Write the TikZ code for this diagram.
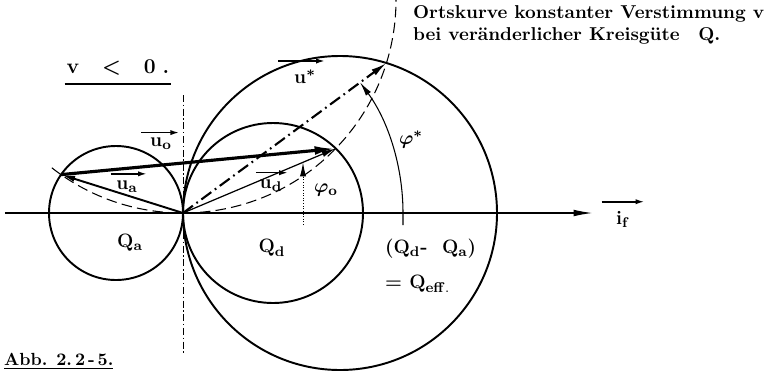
\documentclass[tikz,border=0pt]{standalone}
\usepackage{amsmath,amssymb,bm}
\usetikzlibrary{arrows.meta}

\begin{document}
\begin{tikzpicture}[
    x=0.02cm, y=0.02cm,
    >={Latex[length=8pt,width=3.5pt]},
    circ/.style={line width=1.1pt},
    axisline/.style={line width=0.9pt, -{Latex[length=11pt,width=3.8pt]}},
    locus/.style={line width=0.6pt, dash pattern=on 6pt off 3pt},
    symaxis/.style={line width=0.4pt, dash pattern=on 4pt off 1.5pt on 0.8pt off 1.5pt},
    vec/.style={line width=1.1pt, ->},
    lbl/.style={font=\fontsize{11}{13}\selectfont\bfseries, inner sep=1pt},
    lblarrow/.style={line width=0.9pt, -{Latex[length=5pt,width=3pt]}},
]
\useasboundingbox (-183,-163) rectangle (587,213);

% ---- Points ----
\coordinate (O)  at (0,0);
\coordinate (Ca) at (-67,0);
\coordinate (Cd) at (90,0);
\coordinate (Cs) at (157,0);
\coordinate (M)  at (0,213);
\coordinate (A)  at (-121.9,38.4);
\coordinate (D)  at (152.7,64.5);
\coordinate (S)  at (203.5,150.0);

% ---- Circles ----
\draw[circ] (Ca) circle[radius=67];
\draw[circ] (Cd) circle[radius=90];
\draw[circ] (Cs) circle[radius=157];

% ---- Axes ----
\coordinate (axL) at (-178,0);
\coordinate (axR) at (410,0);
\draw[axisline] (axL) -- (axR);
\coordinate (vT) at (0,118);
\coordinate (vB) at (0,-140);
\draw[symaxis] (vT) -- (vB);

% ---- Locus of constant detuning ----
\draw[locus] (M) ++(232:213) arc[start angle=232, end angle=360, radius=213];

% ---- Vectors ----
\draw[vec] (O) -- (A);
\draw[line width=1.8pt, -{Latex[length=12pt,width=5pt]}] (A) -- (D);
\draw[line width=0.7pt, ->] (O) -- (D);
\draw[line width=1.2pt, dash pattern=on 7pt off 2.5pt on 1pt off 2.5pt,
      -{Latex[length=9pt,width=4pt]}] (O) -- (S);

% ---- Angles ----
\coordinate (tS) at (220,-12);
\coordinate (aS) at (220,0);
\draw[line width=0.6pt, ->] (tS) -- (aS) arc[start angle=0, end angle=36.4, radius=220];
\coordinate (t0) at (120,-12);
\coordinate (a0) at (120,38);
\coordinate (b0) at (120,50.7);
\draw[densely dotted, line width=0.5pt] (t0) -- (a0);
\draw[line width=0.6pt, ->] (a0) -- (b0);

% ---- Labels ----
\node[lbl, font=\fontsize{12}{14}\selectfont\bfseries] (vlt) at (-65,146)
  {v\hspace{13pt}$\bm{<}$\hspace{13pt}0\hspace{4pt}.};
\draw[line width=0.9pt] ([yshift=-4pt]vlt.south west) -- ([yshift=-4pt]vlt.south east);

\node[lbl, font=\fontsize{10.6}{12.5}\selectfont\bfseries, anchor=north west, align=left]
  (title) at (228,210)
  {Ortskurve konstanter Verstimmung v\\bei veränderlicher Kreisgüte\quad Q.};

\node[lbl] (luo) at (-22,69)  {u$_{\mathbf{o}}$};
\node[lbl] (lua) at (-56,26)  {u$_{\mathbf{a}}$};
\node[lbl] (lud) at (88,27)   {u$_{\mathbf{d}}$};
\node[lbl] (lus) at (122,136) {u$^{\bm{\ast}}$};
\node[lbl] (lif) at (440,-6)  {i$_{\mathbf{f}}$};
\draw[lblarrow] ([xshift=-4pt,yshift=2pt]luo.north west) -- ([xshift=3pt,yshift=2pt]luo.north east);
\draw[lblarrow] ([xshift=-2pt,yshift=3pt]lua.north west) -- ([xshift=4pt,yshift=3pt]lua.north east);
\draw[lblarrow] ([xshift=-1pt,yshift=3pt]lud.north west) -- ([xshift=2pt,yshift=3pt]lud.north east);
\draw[lblarrow] ([xshift=-8pt,yshift=4pt]lus.north west) -- ([xshift=4pt,yshift=4pt]lus.north east);
\draw[lblarrow] ([xshift=-7pt,yshift=4pt]lif.north west) -- ([xshift=7pt,yshift=4pt]lif.north east);

\node[lbl] (lpo) at (143,23)  {$\bm{\varphi}_{\mathbf{o}}$};
\node[lbl] (lps) at (228,73)  {$\bm{\varphi}^{\bm{\ast}}$};
\node[lbl] (lqa) at (-53,-30) {Q$_{\mathbf{a}}$};
\node[lbl] (lqd) at (89,-35)  {Q$_{\mathbf{d}}$};
\node[lbl, anchor=west] (ldf) at (200,-36) {(Q$_{\mathbf{d}}$- \ Q$_{\mathbf{a}}$)};
\node[lbl, anchor=west] (lef) at (200,-71) {= Q$_{\mathbf{eff.}}$};

\node[lbl, font=\fontsize{10}{12}\selectfont\bfseries, anchor=west] (abb) at (-181,-148)
  {\underline{Abb. 2.\,2\,-\,5.}};
\end{tikzpicture}
\end{document}
